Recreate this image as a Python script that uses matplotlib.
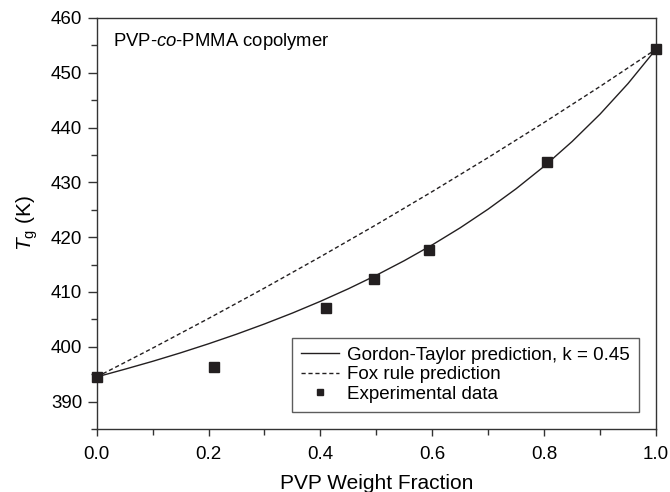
import matplotlib
matplotlib.use("Agg")
import matplotlib.pyplot as plt
from matplotlib.ticker import MultipleLocator

plt.rcParams['font.family'] = ['Liberation Sans', 'DejaVu Sans']
plt.rcParams['mathtext.fontset'] = 'custom'
plt.rcParams['mathtext.rm'] = 'Liberation Sans'
plt.rcParams['mathtext.it'] = 'Liberation Sans:italic'

# Experimental data
exp_w = [0.0, 0.21, 0.41, 0.495, 0.595, 0.805, 1.0]
exp_tg = [394.4, 396.4, 407.1, 412.4, 417.6, 433.7, 454.3]

# Gordon-Taylor prediction curve
gt_w = [0.0, 0.05, 0.10, 0.15, 0.20, 0.25, 0.30, 0.35, 0.40, 0.45, 0.50,
        0.55, 0.60, 0.65, 0.70, 0.75, 0.80, 0.85, 0.90, 0.95, 1.0]
gt_tg = [394.5, 395.9, 397.35, 398.9, 400.55, 402.3, 404.17, 406.16, 408.3, 410.59, 413.06,
         415.72, 418.6, 421.72, 425.13, 428.85, 432.94, 437.46, 442.46, 448.04, 454.3]

# Fox rule prediction
fox_w = [0.0, 0.1, 0.2, 0.3, 0.4, 0.5, 0.6, 0.7, 0.8, 0.9, 1.0]
fox_tg = [394.5, 399.76, 405.17, 410.72, 416.43, 422.29, 428.33, 434.54, 440.93, 447.51, 454.3]

fig = plt.figure(figsize=(6.7, 4.92), dpi=100)
ax = fig.add_axes([96.7/670, 1 - 429/492, (656 - 96.7)/670, (429 - 18)/492])

ink = '#231f20'
ax.plot(gt_w, gt_tg, '-', color=ink, lw=1.0, label='Gordon-Taylor prediction, k = 0.45')
ax.plot(fox_w, fox_tg, '--', color=ink, lw=1.0, dashes=(3, 2), label='Fox rule prediction')
ax.plot(exp_w, exp_tg, 's', color=ink, ms=6.5, ls='none', label='Experimental data', clip_on=False, zorder=5)

ax.set_xlim(0, 1.0)
ax.set_ylim(385, 460)
ax.xaxis.set_major_locator(MultipleLocator(0.2))
ax.xaxis.set_minor_locator(MultipleLocator(0.1))
ax.yaxis.set_major_locator(MultipleLocator(10))
ax.yaxis.set_minor_locator(MultipleLocator(5))
ax.xaxis.set_major_formatter(matplotlib.ticker.FormatStrFormatter('%.1f'))
ax.tick_params(which='both', direction='out', top=False, right=False, labelsize=13.5,
               color='#333333', pad=4)
ax.tick_params(axis='x', which='major', length=5, width=1, pad=7)
ax.tick_params(axis='x', which='minor', length=4, width=1)
ax.tick_params(axis='y', which='major', length=6.5, width=1)
ax.tick_params(axis='y', which='minor', length=4, width=1)
for s in ax.spines.values():
    s.set_color('#333333')
    s.set_linewidth(1.0)

ax.set_xlabel('PVP Weight Fraction', fontsize=15, labelpad=8)
ax.set_ylabel(r'$\mathit{T}_{\mathrm{g}}$ (K)', fontsize=15, labelpad=8)

ax.text(0.029, 0.968, r'PVP-$\mathit{co}$-PMMA copolymer', transform=ax.transAxes,
        fontsize=13.3, va='top', ha='left')

leg = ax.legend(loc='lower right', bbox_to_anchor=(0.97, 0.041), fontsize=13.5,
                frameon=True, fancybox=False, edgecolor='#333333', handlelength=2.0,
                borderpad=0.5, labelspacing=0.12, handletextpad=0.45, numpoints=1,
                markerscale=0.75, borderaxespad=0)
leg.get_frame().set_linewidth(1.0)

fig.savefig('out.png', dpi=100)
